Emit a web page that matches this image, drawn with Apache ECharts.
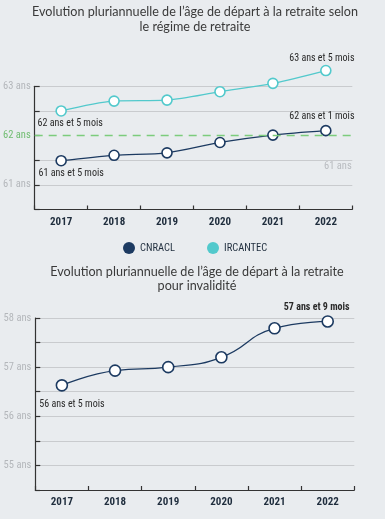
<!DOCTYPE html>
<html><head><meta charset="utf-8">
<script src="https://cdn.jsdelivr.net/npm/echarts@6/dist/echarts.min.js"></script>
<style>html,body{margin:0;padding:0;background:#e9ecef;}#c{width:385px;height:519px;}</style>
</head><body><div id="c"></div>
<script>
const years = ['2017','2018','2019','2020','2021','2022'];
const cnracl = [61.49, 61.60, 61.65, 61.86, 62.01, 62.10];
const ircantec = [62.50, 62.70, 62.72, 62.89, 63.06, 63.32];
const invalidite = [56.63, 56.93, 57.00, 57.20, 57.79, 57.93];
const cnraclLabels = ['61 ans et 5 mois', '', '', '', '', '62 ans et 1 mois'];
const ircantecLabels = ['62 ans et 5 mois', '', '', '', '', '63 ans et 5 mois'];
const invaliditeLabels = ['56 ans et 5 mois', '', '', '', '', '57 ans et 9 mois'];
const title1 = 'Evolution pluriannuelle de l\u2019âge de départ à la retraite selon\nle régime de retraite';
const title2 = 'Evolution pluriannuelle de l\u2019âge de départ à la retraite\npour invalidité';
const stray61 = '61 ans';

const NAVY = '#1c3a61', TEAL = '#52c9cc';
const NARROW = 'Roboto Condensed';
const TITLEFONT = 'Lato';

function buildData(vals, labels, opts) {
  return vals.map((v, i) => {
    const d = { value: v };
    if (labels[i]) {
      const first = i === 0;
      d.label = {
        show: true,
        formatter: labels[i],
        position: first ? 'bottom' : 'top',
        distance: first ? opts.firstDist : opts.lastDist,
        offset: first ? opts.firstOff : opts.lastOff,
        fontWeight: (opts.boldLast && !first) ? 'bold' : 'normal'
      };
    }
    return d;
  });
}

function yLabel(v) {
  if (Math.abs(v - Math.round(v)) > 1e-6) return '';
  const r = Math.round(v);
  return r === 62 ? '{g|' + r + ' ans}' : r + ' ans';
}

const axisCommonY = {
  type: 'value', interval: 0.5,
  axisLine: { show: true, lineStyle: { color: '#333', width: 1.2 } },
  axisTick: { show: true, inside: true, length: 5, lineStyle: { color: '#333', width: 1.2 } },
  axisLabel: { formatter: yLabel, color: '#b4b7bb', fontFamily: NARROW, fontSize: 10.5, margin: 4,
    rich: { g: { color: '#72bd72', fontFamily: NARROW, fontSize: 10.5 } } }
};
const axisCommonX = {
  type: 'category', data: years, boundaryGap: true,
  axisLine: { show: true, lineStyle: { color: '#333', width: 1.2 } },
  axisTick: { show: true, inside: true, length: 4, lineStyle: { color: '#333', width: 1.2 } },
  axisLabel: { color: '#1f2d3d', fontFamily: NARROW, fontSize: 11, fontWeight: 'bold', margin: 7 },
  splitLine: { show: false }
};

const labelBase = { color: '#2a2a2a', fontFamily: NARROW, fontSize: 10 };
const titleStyle = { fontFamily: TITLEFONT, fontWeight: 'normal', fontSize: 12.6, color: '#3a3a3a', lineHeight: 14.5 };
const chart = echarts.init(document.getElementById('c'));
chart.setOption({
  backgroundColor: '#e9ecef',
  animation: false,
  title: [
    { text: title1, left: 195, top: 5, padding: 0, textAlign: 'center', textStyle: titleStyle },
    { text: title2, left: 197, top: 264.5, padding: 0, textAlign: 'center', textStyle: titleStyle }
  ],
  legend: [
    { data: [{ name: 'CNRACL', itemStyle: { color: NAVY, borderWidth: 0 } }], left: 123, top: 242, itemWidth: 12, itemHeight: 12, icon: 'circle',
      textStyle: { fontFamily: NARROW, fontSize: 10.5, color: '#1f2d3d' }, selectedMode: false, padding: 0 },
    { data: [{ name: 'IRCANTEC', itemStyle: { color: TEAL, borderWidth: 0 } }], left: 207, top: 242, itemWidth: 12, itemHeight: 12, icon: 'circle',
      textStyle: { fontFamily: NARROW, fontSize: 10.5, color: '#1f2d3d' }, selectedMode: false, padding: 0 }
  ],
  grid: [
    { left: 34.3, top: 86.3, width: 318, height: 123.2 },
    { left: 35.3, top: 318, width: 319, height: 172 }
  ],
  xAxis: [
    Object.assign({}, axisCommonX, { gridIndex: 0 }),
    Object.assign({}, axisCommonX, { gridIndex: 1 })
  ],
  yAxis: [
    Object.assign({}, axisCommonY, { gridIndex: 0, min: 60.5, max: 63,
      splitLine: { show: true, lineStyle: { color: ['#c9cbce', '#c9cbce', '#c9cbce', 'rgba(0,0,0,0)', '#c9cbce', '#c9cbce'], width: 1 } } }),
    Object.assign({}, axisCommonY, { gridIndex: 1, min: 54.5, max: 58,
      splitLine: { show: true, lineStyle: { color: '#c9cbce', width: 1 } } })
  ],
  graphic: [
    { type: 'text', left: 324, top: 161, style: { text: stray61, fill: '#b9bcc0', font: '10.5px "Roboto Condensed"' } }
  ],
  series: [
    { name: 'CNRACL', type: 'line', xAxisIndex: 0, yAxisIndex: 0, smooth: 0.3, clip: false,
      symbol: 'circle', symbolSize: 10,
      itemStyle: { color: '#fff', borderColor: NAVY, borderWidth: 1.6 },
      lineStyle: { color: NAVY, width: 1.3 },
      label: labelBase,
      data: buildData(cnracl, cnraclLabels, { firstDist: 2, firstOff: [10, 0], lastDist: 3, lastOff: [-4, 0] }),
      markLine: { silent: true, symbol: 'none', label: { show: false },
        lineStyle: { color: '#7ccc7c', type: [8, 6], width: 1.3, opacity: 1 }, data: [{ yAxis: 62 }] }
    },
    { name: 'IRCANTEC', type: 'line', xAxisIndex: 0, yAxisIndex: 0, smooth: 0.3, clip: false,
      symbol: 'circle', symbolSize: 10,
      itemStyle: { color: '#fff', borderColor: TEAL, borderWidth: 1.6 },
      lineStyle: { color: TEAL, width: 1.3 },
      label: labelBase,
      data: buildData(ircantec, ircantecLabels, { firstDist: 2, firstOff: [9, 0], lastDist: 1, lastOff: [-4, 0] })
    },
    { name: 'Invalidité', type: 'line', xAxisIndex: 1, yAxisIndex: 1, smooth: 0.5, clip: false,
      symbol: 'circle', symbolSize: 11,
      itemStyle: { color: '#fff', borderColor: NAVY, borderWidth: 1.6 },
      lineStyle: { color: NAVY, width: 1.3 },
      label: labelBase,
      data: buildData(invalidite, invaliditeLabels, { firstDist: 8, firstOff: [10, 0], lastDist: 3, lastOff: [-11, 0], boldLast: true })
    }
  ]
});
</script></body></html>
